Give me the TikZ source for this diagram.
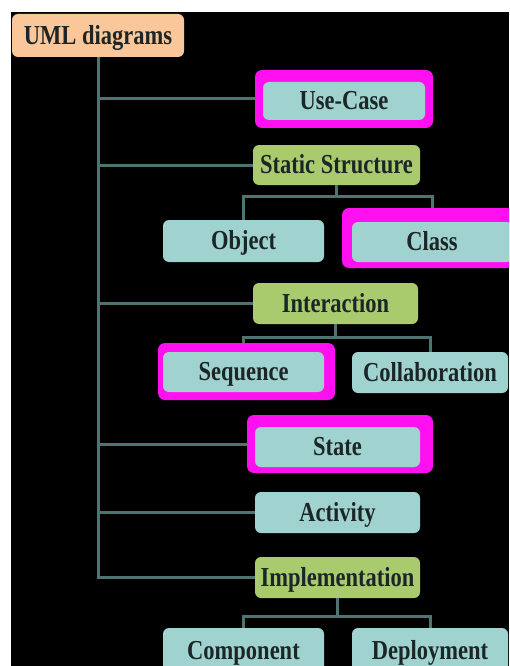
\documentclass[tikz,border=0pt]{standalone}
\usepackage{fontspec}
\usepackage{graphicx}
\setmainfont{Liberation Serif}
\definecolor{cyanbox}{HTML}{A0D3CF}
\definecolor{greenbox}{HTML}{A9CB6E}
\definecolor{peachbox}{HTML}{F9C79A}
\definecolor{hlmag}{HTML}{FF10F0}
\definecolor{linec}{HTML}{4E7472}
\definecolor{txt}{HTML}{1C2626}
\newcommand{\tallt}[1]{\scalebox{1}[1.22]{#1}}
\tikzset{
  box/.style={rectangle, rounded corners=6pt, inner sep=0pt, text=txt,
    font=\fontsize{22.5}{24}\selectfont\bfseries, minimum height=41pt,
    text height=17.5pt, text depth=0pt},
  cbox/.style={box, fill=cyanbox},
  gbox/.style={box, fill=greenbox},
  pbox/.style={box, fill=peachbox},
  hl/.style={rectangle, rounded corners=7pt, fill=hlmag, inner sep=0pt},
  conn/.style={draw=linec, line width=3pt},
}
\begin{document}
\begin{tikzpicture}[x=1pt,y=-1pt]
\useasboundingbox (0,0) rectangle (509,666);
\fill[white] (0,0) rectangle (509,666);
\fill[black] (11,12) rectangle (509,666);
\begin{scope}
\clip (0,0) rectangle (509,666);
% highlight frames
\node[hl, minimum width=178pt, minimum height=58pt] (hlusecase) at (344,99) {};
\node[hl, minimum width=172pt, minimum height=60pt] (hlclass) at (428,238) {};
\node[hl, minimum width=177pt, minimum height=57pt] (hlseq) at (246.5,371.5) {};
\node[hl, minimum width=186pt, minimum height=58pt] (hlstate) at (340,444) {};
\coordinate (trunkend) at (98,577.5);
\node[pbox, minimum width=172pt, minimum height=43pt] (uml) at (98,35.5) {\tallt{UML diagrams}};
\node[cbox, minimum width=162pt, minimum height=38pt] (usecase) at (344,101) {\tallt{Use-Case}};
\node[gbox, minimum width=167pt, minimum height=40pt] (static) at (336.5,165) {\tallt{Static Structure}};
\node[cbox, minimum width=161pt, minimum height=42pt] (object) at (243.5,241) {\tallt{Object}};
\node[cbox, minimum width=160pt, minimum height=40pt] (class) at (432,242) {\tallt{Class}};
\node[gbox, minimum width=165pt] (interaction) at (335.5,303.5) {\tallt{Interaction}};
\node[cbox, minimum width=161pt, minimum height=40pt] (sequence) at (243.5,372) {\tallt{Sequence}};
\node[cbox, minimum width=156pt] (collab) at (430,372.5) {\tallt{Collaboration}};
\node[cbox, minimum width=165pt, minimum height=40pt] (state) at (337.5,447) {\tallt{State}};
\node[cbox, minimum width=165pt] (activity) at (337.5,512.5) {\tallt{Activity}};
\node[gbox, minimum width=165pt] (impl) at (337.5,577.5) {\tallt{Implementation}};
\node[cbox, minimum width=161pt, minimum height=46pt] (component) at (243.5,651) {\tallt{Component}};
\node[cbox, minimum width=156pt, minimum height=46pt] (deploy) at (430,651) {\tallt{Deployment}};
% connectors
\draw[conn] (uml.south) -- (trunkend) -- (impl.west);
\draw[conn] (uml.south |- hlusecase.west) -- (hlusecase.west);
\draw[conn] (uml.south |- static.west) -- (static.west);
\draw[conn] (uml.south |- interaction.west) -- (interaction.west);
\draw[conn] (uml.south |- hlstate.west) -- (hlstate.west);
\draw[conn] (uml.south |- activity.west) -- (activity.west);
\draw[conn] (static.south) -- ++(0,11) -| (object.north);
\draw[conn] (static.south) ++(0,11) -| (hlclass.north -| class.north);
\draw[conn] (interaction.south) -- ++(0,13) -| (hlseq.north -| sequence.north);
\draw[conn] (interaction.south) ++(0,13) -| (collab.north);
\draw[conn] (impl.south) -- ++(0,18) -| (component.north);
\draw[conn] (impl.south) ++(0,18) -| (deploy.north);
\end{scope}
\end{tikzpicture}
\end{document}
